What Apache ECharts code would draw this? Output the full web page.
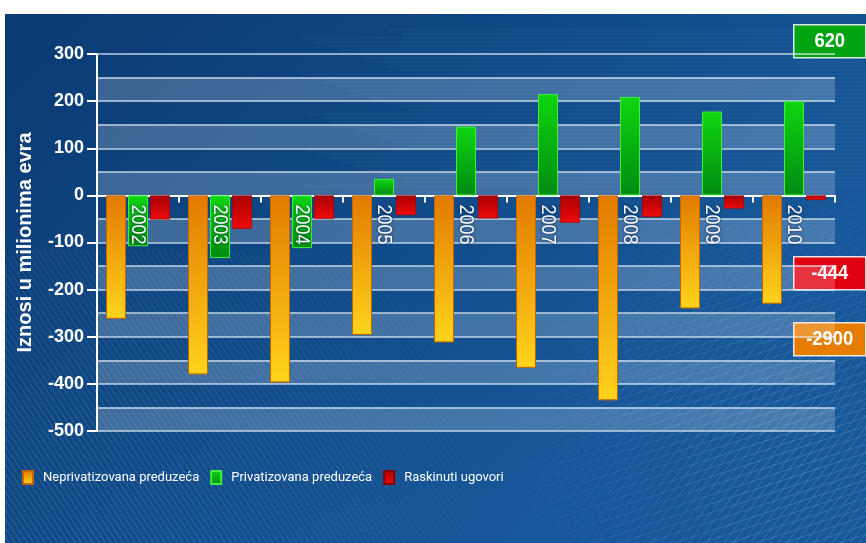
<!DOCTYPE html>
<html>
<head>
<meta charset="utf-8">
<script src="https://cdn.jsdelivr.net/npm/echarts@6/dist/echarts.min.js"></script>
<style>
  html, body { margin: 0; padding: 0; background: #ffffff; }
  #wrap { position: relative; width: 866px; height: 543px; }
  #bg, #chart { position: absolute; left: 0; top: 0; width: 866px; height: 543px; }
</style>
</head>
<body>
<div id="wrap">
  <canvas id="bg" width="866" height="543"></canvas>
  <div id="chart"></div>
</div>
<script>
// Categories and values (millions of euros)
const years = ['2002', '2003', '2004', '2005', '2006', '2007', '2008', '2009', '2010'];
const neprivatizovana = [-262, -380, -397, -296, -312, -366, -435, -240, -230];
const privatizovana = [-108, -133, -112, 35, 146, 215, 209, 178, 200];
const raskinuti = [-51, -71, -50, -42, -49, -58, -46, -28, -10];
const seriesNames = ['Neprivatizovana preduzeća', 'Privatizovana preduzeća', 'Raskinuti ugovori'];
const totals = ['620', '-444', '-2900'];
const yMin = -500, yMax = 300, yStep = 100;
const axisTitle = 'Iznosi u milionima evra';

const SANS = '"Liberation Sans", Arial, sans-serif';

// ---- textured blue backdrop ----
(function drawBackdrop() {
  const c = document.getElementById('bg');
  const ctx = c.getContext('2d');
  const W = 866, H = 543, X0 = 5, Y0 = 14;
  ctx.fillStyle = '#ffffff';
  ctx.fillRect(0, 0, W, H);
  ctx.save();
  ctx.beginPath();
  ctx.rect(X0, Y0, W - X0, H - Y0);
  ctx.clip();
  const g = ctx.createLinearGradient(0, Y0, W * 0.6, H);
  g.addColorStop(0, '#0a3a72');
  g.addColorStop(0.45, '#0f4784');
  g.addColorStop(1, '#17589a');
  ctx.fillStyle = g;
  ctx.fillRect(X0, Y0, W, H);

  // diagonal hatching, lower left
  const off = document.createElement('canvas');
  off.width = W; off.height = H;
  const o = off.getContext('2d');
  o.strokeStyle = 'rgba(190,215,245,0.22)';
  o.lineWidth = 1;
  for (let x = -400; x < W; x += 6) {
    o.beginPath();
    o.moveTo(x, 250);
    o.lineTo(x + 200, H + 10);
    o.stroke();
  }
  o.globalCompositeOperation = 'destination-in';
  const rg = o.createRadialGradient(80, 520, 20, 80, 520, 420);
  rg.addColorStop(0, 'rgba(0,0,0,1)');
  rg.addColorStop(0.6, 'rgba(0,0,0,0.6)');
  rg.addColorStop(1, 'rgba(0,0,0,0)');
  o.fillStyle = rg;
  o.fillRect(0, 0, W, H);
  ctx.drawImage(off, 0, 0);

  // mesh, lower right
  const m = document.createElement('canvas');
  m.width = W; m.height = H;
  const mc = m.getContext('2d');
  mc.strokeStyle = 'rgba(200,225,250,0.25)';
  mc.lineWidth = 1;
  for (let x = 300; x < W + 300; x += 9) {
    mc.beginPath(); mc.moveTo(x, 200); mc.lineTo(x - 260, H); mc.stroke();
  }
  for (let y = 150; y < H + 200; y += 9) {
    mc.beginPath(); mc.moveTo(500, y); mc.lineTo(W, y - 120); mc.stroke();
  }
  mc.globalCompositeOperation = 'destination-in';
  const rg2 = mc.createRadialGradient(800, 470, 10, 800, 470, 300);
  rg2.addColorStop(0, 'rgba(0,0,0,0.9)');
  rg2.addColorStop(1, 'rgba(0,0,0,0)');
  mc.fillStyle = rg2;
  mc.fillRect(0, 0, W, H);
  ctx.drawImage(m, 0, 0);

  // faint horizontal streaks behind the upper plot
  ctx.strokeStyle = 'rgba(170,200,235,0.10)';
  for (let y = 30; y < 190; y += 4) {
    ctx.beginPath();
    ctx.moveTo(300 + (y % 37) * 3, y);
    ctx.lineTo(866, y);
    ctx.stroke();
  }
  ctx.restore();
})();

// ---- chart ----
const chart = echarts.init(document.getElementById('chart'), null, { renderer: 'canvas' });

function vgrad(top, bottom) {
  return new echarts.graphic.LinearGradient(0, 0, 0, 1, [
    { offset: 0, color: top }, { offset: 1, color: bottom }
  ]);
}

function totalBox(y, text, fill) {
  return {
    type: 'group', left: 793, top: y,
    children: [
      { type: 'rect', shape: { x: 0, y: 0, width: 72, height: 33 },
        style: { fill: fill, stroke: 'rgba(255,255,255,0.85)', lineWidth: 1.5 } },
      { type: 'text', x: 36, y: 17, scaleX: 0.92,
        style: { text: text, fill: '#ffffff', font: 'bold 20px ' + SANS,
                 textAlign: 'center', textVerticalAlign: 'middle' } }
    ]
  };
}

// year captions hang just under the zero line, reading downwards
function renderYearCaption(params, api) {
  const p = api.coord([api.value(0), 0]);
  return {
    type: 'text',
    x: p[0], y: p[1] + 9,
    rotation: -Math.PI / 2,
    scaleX: 0.86,
    silent: true,
    style: {
      text: years[params.dataIndex],
      fill: '#ffffff',
      font: '21px ' + SANS,
      textAlign: 'left', textVerticalAlign: 'middle',
      textShadowColor: 'rgba(0,20,60,0.9)', textShadowBlur: 3
    }
  };
}

const option = {
  backgroundColor: 'transparent',
  animation: false,
  grid: { left: 97, right: 31, top: 54, bottom: 112 },
  legend: {
    data: seriesNames,
    left: 22, top: 470, padding: 0,
    icon: 'rect', itemWidth: 10, itemHeight: 13, itemGap: 11,
    textStyle: { color: '#ffffff', fontSize: 13, fontFamily: 'Roboto, ' + SANS, padding: [0, 0, 0, 5] }
  },
  xAxis: {
    type: 'category',
    data: years,
    axisLine: { onZero: true, lineStyle: { color: '#ffffff', width: 2 } },
    axisTick: { show: true, length: 7, lineStyle: { color: '#ffffff', width: 2 } },
    axisLabel: { show: false },
    splitLine: { show: false }
  },
  yAxis: [
    {
      type: 'value', min: yMin, max: yMax, interval: yStep,
      name: axisTitle, nameLocation: 'middle', nameGap: 62, nameRotate: 90,
      nameTextStyle: { color: '#ffffff', fontSize: 20, fontWeight: 'bold', fontFamily: SANS },
      axisLine: { show: true, lineStyle: { color: '#ffffff', width: 2 } },
      axisTick: { show: true, length: 10, lineStyle: { color: '#ffffff', width: 2 } },
      axisLabel: { color: '#ffffff', fontSize: 18, fontWeight: 'bold', fontFamily: SANS, margin: 13 },
      splitLine: { show: false }
    },
    {
      // half-step grid lines with alternating translucent bands
      type: 'value', min: yMin, max: yMax, interval: yStep / 2,
      position: 'left',
      axisLine: { show: false }, axisTick: { show: false }, axisLabel: { show: false },
      splitLine: { show: true, lineStyle: { color: 'rgba(235,242,250,0.8)', width: 1.5 } },
      splitArea: { show: true, areaStyle: { color: ['rgba(255,255,255,0.2)', 'rgba(255,255,255,0)'] } }
    }
  ],
  series: [
    {
      name: seriesNames[0], type: 'bar', data: neprivatizovana,
      barWidth: 20, barGap: '10%',
      itemStyle: { color: vgrad('#e27a00', '#ffd41c'), borderColor: '#c86400', borderWidth: 1 }
    },
    {
      name: seriesNames[1], type: 'bar', data: privatizovana,
      barWidth: 20, barGap: '10%',
      itemStyle: { color: vgrad('#10d610', '#008a12'), borderColor: '#40ee40', borderWidth: 1 }
    },
    {
      name: seriesNames[2], type: 'bar', data: raskinuti,
      barWidth: 20, barGap: '10%',
      itemStyle: { color: vgrad('#a80000', '#f00a0a'), borderColor: '#8a0000', borderWidth: 0.5 }
    },
    {
      name: 'godine', type: 'custom',
      data: years.map((y, i) => [i, 0]),
      renderItem: renderYearCaption,
      z: 10, silent: true, tooltip: { show: false }
    }
  ],
  graphic: [
    totalBox(24, totals[0], '#00a311'),
    totalBox(256, totals[1], '#e00010'),
    totalBox(322, totals[2], '#e67d00')
  ]
};

chart.setOption(option);
</script>
</body>
</html>
